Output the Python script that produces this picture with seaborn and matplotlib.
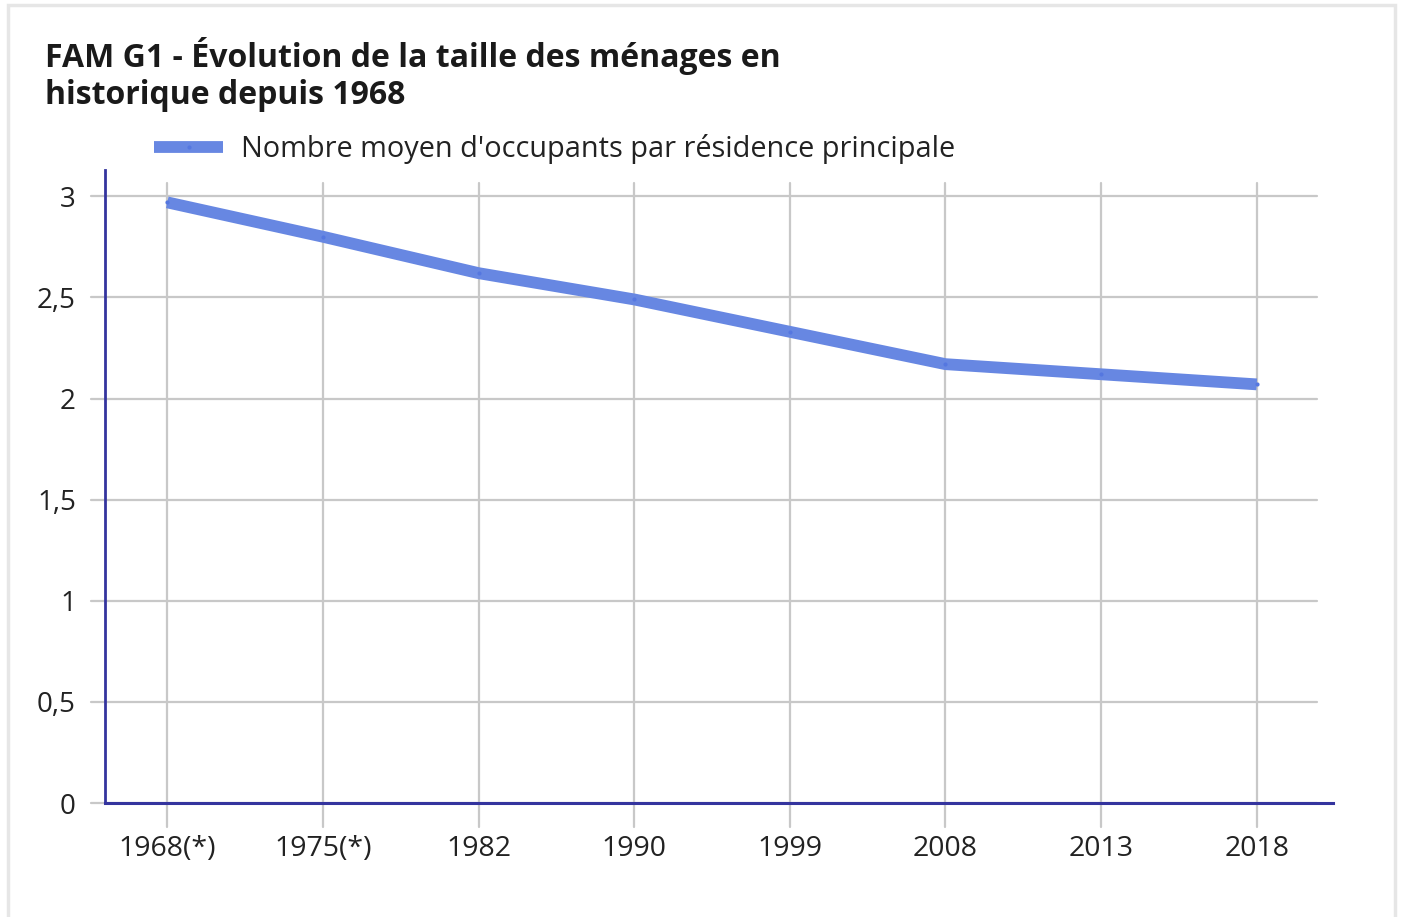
import matplotlib
matplotlib.use("Agg")
import matplotlib.pyplot as plt
import seaborn as sns
import pandas as pd
from matplotlib.patches import Rectangle
from matplotlib.lines import Line2D

years = ["1968(*)", "1975(*)", "1982", "1990", "1999", "2008", "2013", "2018"]
values = [2.97, 2.80, 2.62, 2.49, 2.33, 2.17, 2.12, 2.07]
yticks = [0, 0.5, 1, 1.5, 2, 2.5, 3]
ytick_labels = ["0", "0,5", "1", "1,5", "2", "2,5", "3"]
series_name = "Nombre moyen d'occupants par résidence principale"
title = "FAM G1 - Évolution de la taille des ménages en\nhistorique depuis 1968"

sns.set_theme(style="white")
plt.rcParams['font.family'] = ['Open Sans', 'DejaVu Sans']

df = pd.DataFrame({"annee": years, "valeur": values})
df["pos"] = range(len(years))

LINE = "#6787e2"
AXIS = "#34349e"
GRID = "#c8c8c8"

fig = plt.figure(figsize=(14.02, 9.17), dpi=100)
ax = fig.add_axes([105/1402, 1-803/917, (1333-105)/1402, (803-170)/917])

# gridlines
for y in yticks:
    ax.plot([-0.49, 7.39], [y, y], color=GRID, lw=1.6, zorder=1, clip_on=False)
for i in range(len(years)):
    ax.plot([i, i], [-0.12, 3.065], color=GRID, lw=1.6, zorder=1, clip_on=False)

sns.lineplot(data=df, x="pos", y="valeur", ax=ax, color=LINE, lw=8.5,
             marker="o", markersize=3, markeredgewidth=0, markerfacecolor="#5577e0",
             solid_capstyle="butt", zorder=3, legend=False)

ax.set_xlim(-0.40, 7.49)
ax.set_ylim(0, 3.13)
ax.set_xticks(range(len(years)))
ax.set_xticklabels(years, fontsize=20.5, color="#222222")
ax.set_yticks(yticks)
ax.set_yticklabels(ytick_labels, fontsize=20, color="#222222")
ax.tick_params(axis="x", length=0, pad=23)
ax.tick_params(axis="y", length=0, pad=21)
ax.set_xlabel("")
ax.set_ylabel("")
for s in ["top", "right"]:
    ax.spines[s].set_visible(False)
ax.spines["left"].set_color(AXIS)
ax.spines["bottom"].set_color(AXIS)
ax.spines["left"].set_linewidth(2)
ax.spines["bottom"].set_linewidth(2.2)
ax.spines["left"].set_zorder(4)
ax.spines["bottom"].set_zorder(4)

fig.text(45/1402, 1-37/917, title, fontsize=23, fontweight="bold",
         color="#1a1a1a", va="top", ha="left", linespacing=1.17)

handle = Line2D([], [], color=LINE, lw=8.5, marker="o", markersize=3,
                markeredgewidth=0, markerfacecolor="#5577e0", solid_capstyle="butt")
fig.legend([handle], [series_name], loc="center left",
           bbox_to_anchor=(128/1402, 1-149/917), frameon=False,
           fontsize=20.8, handlelength=2.4, handletextpad=0.62,
           labelcolor="#222222")

fig.patches.append(Rectangle((8/1402, -0.01), (1395-8)/1402, 1-5/917 + 0.01,
                             transform=fig.transFigure, fill=False,
                             edgecolor="#e6e6e6", lw=2.5))

fig.savefig("out.png", dpi=100)
